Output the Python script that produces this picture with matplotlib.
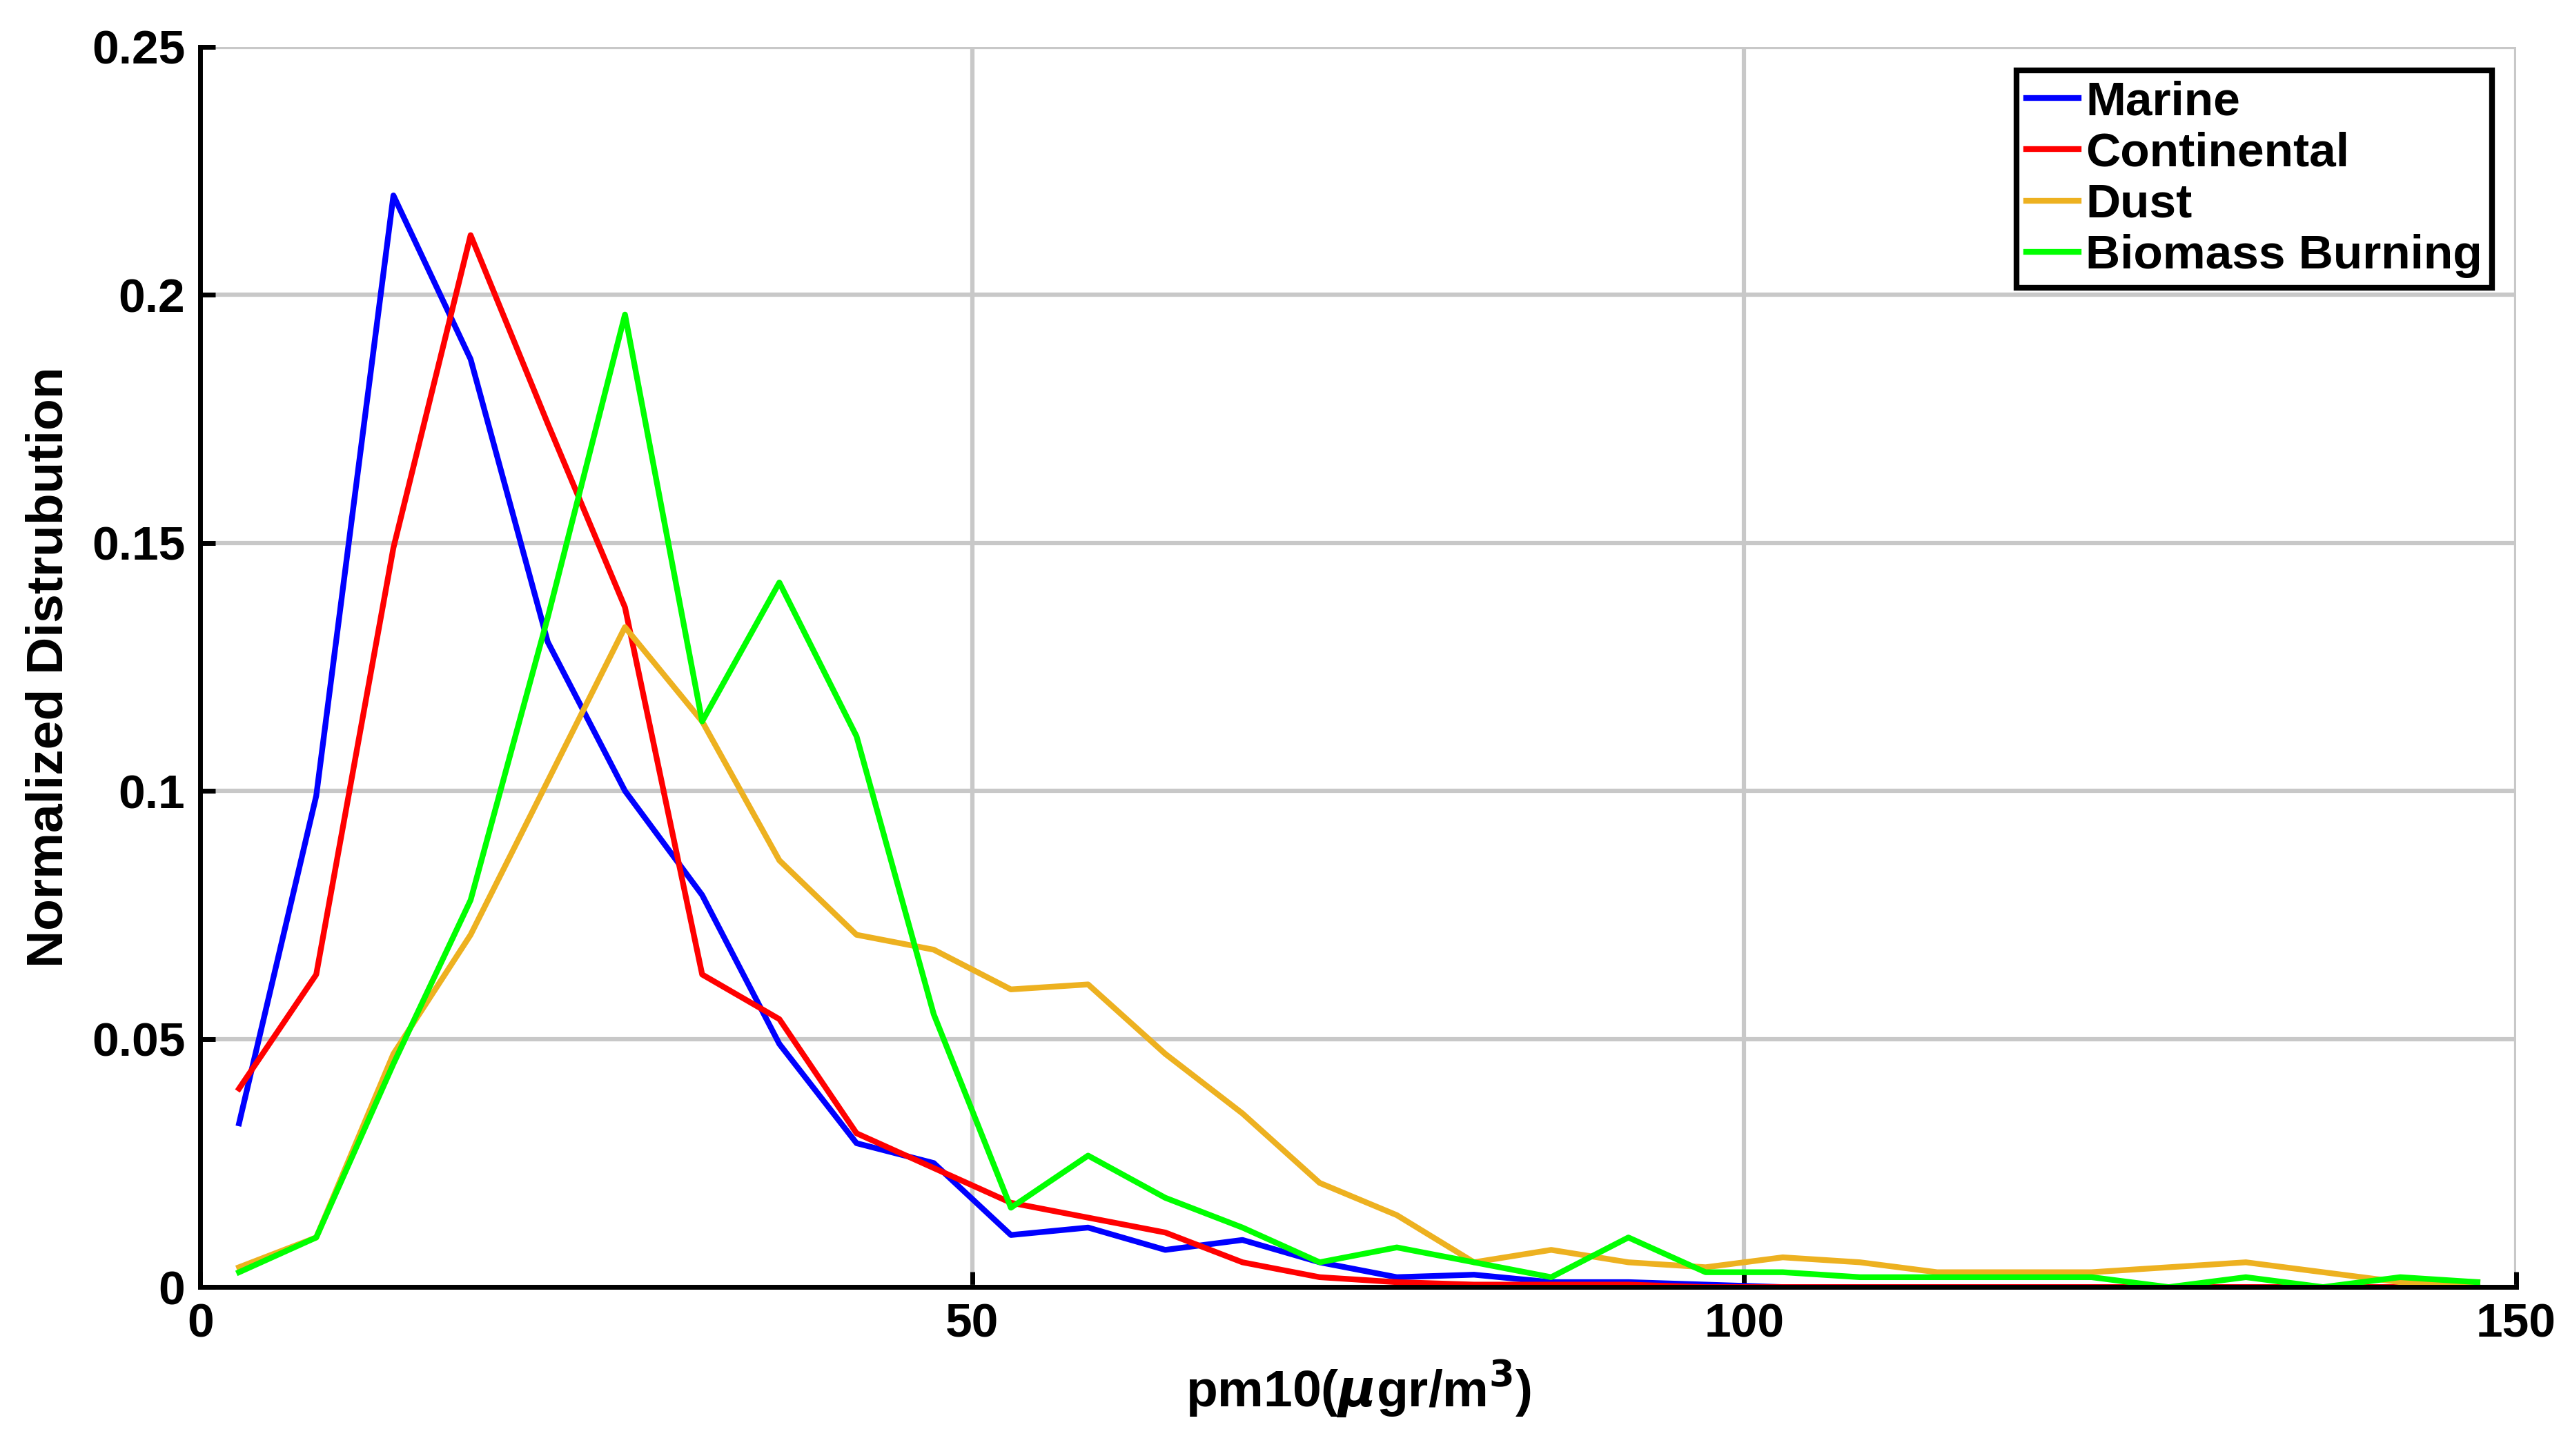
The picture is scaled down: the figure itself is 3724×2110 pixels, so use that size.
import matplotlib
matplotlib.use("Agg")
import matplotlib.pyplot as plt
import numpy as np

x = np.arange(2.5, 150, 5)
marine = [0.033,0.099,0.220,0.187,0.130,0.100,0.079,0.049,0.029,0.025,0.0105,0.012,0.0075,0.0095,0.005,0.002,0.0025,0.001,0.001,0.0005,0,0,0,0,0,0,0,0,0,0]
continental = [0.040,0.063,0.149,0.212,0.174,0.137,0.063,0.054,0.031,0.024,0.017,0.014,0.011,0.005,0.002,0.001,0.0005,0.0005,0.0005,0,0,0,0,0,0,0,0,0,0,0]
dust = [0.004,0.010,0.047,0.071,0.102,0.133,0.114,0.086,0.071,0.068,0.060,0.061,0.047,0.035,0.021,0.0145,0.005,0.0075,0.005,0.004,0.006,0.005,0.003,0.003,0.003,0.004,0.005,0.003,0.001,0.001]
biomass = [0.003,0.010,0.045,0.078,0.135,0.196,0.114,0.142,0.111,0.055,0.016,0.0265,0.018,0.012,0.005,0.008,0.005,0.002,0.010,0.003,0.003,0.002,0.002,0.002,0.002,0.000,0.002,0.000,0.002,0.001]
names = ["Marine","Continental","Dust","Biomass Burning"]
colors = ["#0000ff","#ff0000","#edb120","#00ff00"]

plt.rcParams['font.family'] = ['Liberation Sans','DejaVu Sans']
plt.rcParams['font.weight'] = 'bold'
fig = plt.figure(figsize=(37.24,21.1), dpi=100)
ax = fig.add_axes([0.078,0.116,0.901,0.852])
for y,n,c in zip([marine,continental,dust,biomass],names,colors):
    ax.plot(x,y,color=c,lw=6,label=n)
ax.set_xlim(0,150); ax.set_ylim(0,0.25)
ax.set_xticks([0,50,100,150]); ax.set_yticks([0,0.05,0.1,0.15,0.2,0.25])
ax.set_yticklabels(["0","0.05","0.1","0.15","0.2","0.25"])
ax.grid(True,color="#c8c8c8",lw=4.5)
for s in ['top','right']: ax.spines[s].set_visible(False)
for s in ['left','bottom']: ax.spines[s].set_linewidth(5)
ax.tick_params(direction='in',length=16,width=5,labelsize=50,pad=16)
for t in ax.get_xticklabels()+ax.get_yticklabels(): t.set_fontweight('bold')
ax.set_xlabel(r"pm10($\mu$gr/m$^3$)",fontsize=54,fontweight='bold',labelpad=12)
ax.set_ylabel("Normalized Distrubution",fontsize=54,fontweight='bold',labelpad=20)
leg = ax.legend(loc='upper right',fontsize=50,handlelength=1.1,handletextpad=0.15,
                borderaxespad=0.5,fancybox=False,framealpha=1,borderpad=0.2,labelspacing=0.15)
leg.get_frame().set_edgecolor('black'); leg.get_frame().set_linewidth(6)
for t in leg.get_texts(): t.set_fontweight('bold')
fig.savefig("out.png",dpi=100)
